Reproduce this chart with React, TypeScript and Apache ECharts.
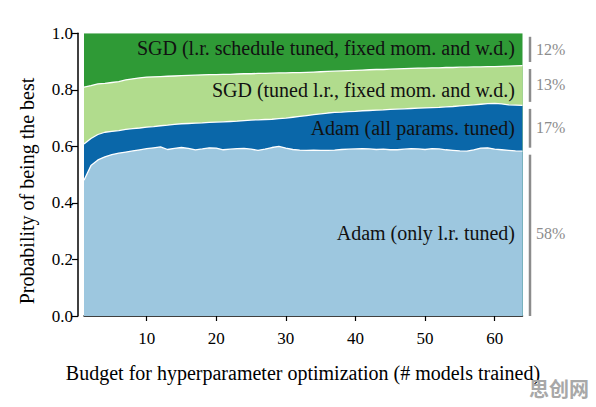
import React, { useEffect, useRef } from "react";
import * as echarts from "echarts";

const budgets = [
  1, 2, 3, 4, 5, 6, 7, 8, 9, 10, 11, 12, 13, 14, 15, 16, 17, 18, 19, 20, 21, 22,
  23, 24, 25, 26, 27, 28, 29, 30, 31, 32, 33, 34, 35, 36, 37, 38, 39, 40, 41, 42,
  43, 44, 45, 46, 47, 48, 49, 50, 51, 52, 53, 54, 55, 56, 57, 58, 59, 60, 61, 62,
  63, 64,
];

// cumulative upper boundary of each band (probability of being the best)
const adamLrTop = [
  0.48, 0.532, 0.552, 0.563, 0.571, 0.576, 0.58, 0.584, 0.588, 0.592, 0.595, 0.598,
  0.589, 0.593, 0.596, 0.593, 0.588, 0.591, 0.595, 0.594, 0.588, 0.59, 0.592, 0.593,
  0.59, 0.586, 0.59, 0.596, 0.6, 0.594, 0.589, 0.587, 0.586, 0.587, 0.586, 0.586,
  0.587, 0.589, 0.59, 0.591, 0.592, 0.591, 0.589, 0.59, 0.588, 0.588, 0.59, 0.592,
  0.591, 0.589, 0.592, 0.591, 0.588, 0.586, 0.584, 0.583, 0.588, 0.594, 0.595, 0.59,
  0.588, 0.586, 0.584, 0.583,
];
const adamAllTop = [
  0.608, 0.628, 0.642, 0.65, 0.653, 0.656, 0.66, 0.663, 0.665, 0.668, 0.67, 0.673,
  0.675, 0.678, 0.68, 0.681, 0.682, 0.683, 0.685, 0.686, 0.687, 0.688, 0.689, 0.691,
  0.693, 0.694, 0.695, 0.696, 0.698, 0.7, 0.703, 0.706, 0.709, 0.712, 0.715, 0.718,
  0.72, 0.721, 0.723, 0.724, 0.726, 0.727, 0.728, 0.729, 0.731, 0.732, 0.733, 0.734,
  0.735, 0.736, 0.737, 0.738, 0.74, 0.741, 0.743, 0.745, 0.747, 0.749, 0.751, 0.752,
  0.75, 0.747, 0.746, 0.745,
];
const sgdLrTop = [
  0.81, 0.815, 0.821, 0.823, 0.826, 0.829, 0.835, 0.839, 0.842, 0.845, 0.846, 0.847,
  0.848, 0.849, 0.85, 0.851, 0.852, 0.853, 0.854, 0.854, 0.855, 0.855, 0.856, 0.857,
  0.857, 0.858, 0.858, 0.859, 0.86, 0.86, 0.861, 0.861, 0.862, 0.863, 0.864, 0.865,
  0.866, 0.867, 0.868, 0.869, 0.87, 0.871, 0.872, 0.872, 0.873, 0.874, 0.875, 0.876,
  0.877, 0.877, 0.878, 0.878, 0.879, 0.879, 0.88, 0.88, 0.881, 0.881, 0.882, 0.882,
  0.883, 0.884, 0.885, 0.886,
];
const TOTAL = 1.0;

const bandNames = [
  "SGD (l.r. schedule tuned, fixed mom. and w.d.)",
  "SGD (tuned l.r., fixed mom. and w.d.)",
  "Adam (all params. tuned)",
  "Adam (only l.r. tuned)",
];
const shareLabels = ["12%", "13%", "17%", "58%"];
const bandColors = ["#2f9a36", "#b1dc8d", "#0a67a9", "#9dc7df"];
const xTicks = [10, 20, 30, 40, 50, 60];

const SERIF = '"Liberation Serif", "DejaVu Serif", serif';

export default function App() {
  const ref = useRef<HTMLDivElement>(null);

  useEffect(() => {
    document.body.style.margin = "0";
    const chart = echarts.init(ref.current!, null, { renderer: "svg" });

    const tops = [budgets.map(() => TOTAL), sgdLrTop, adamAllTop, adamLrTop];

    const series = tops.map((arr, k) => ({
      type: "line",
      name: bandNames[k],
      data: budgets.map((b, i) => [b, arr[i]]),
      showSymbol: false,
      symbol: "none",
      smooth: false,
      lineStyle: { color: "#ffffff", width: k === 0 ? 0 : 1.3 },
      areaStyle: { color: bandColors[k], opacity: 1, origin: "start" },
      z: 2,
      silent: true,
    }));

    chart.setOption({
      animation: false,
      grid: { left: 84, right: 73.5, top: 33.3, bottom: 91 },
      xAxis: {
        type: "value",
        min: 1,
        max: 64,
        offset: 7,
        splitLine: { show: false },
        axisLine: { show: true, lineStyle: { color: "#000", width: 1.5 } },
        axisTick: {
          show: true,
          length: 5,
          customValues: xTicks,
          lineStyle: { color: "#000", width: 1.2 },
        },
        axisLabel: {
          customValues: xTicks,
          color: "#000",
          fontSize: 17,
          fontFamily: SERIF,
          margin: 7,
        },
      },
      yAxis: {
        type: "value",
        min: 0,
        max: 1,
        interval: 0.2,
        offset: 6,
        splitLine: { show: false },
        axisLine: { show: true, lineStyle: { color: "#000", width: 1.5 } },
        axisTick: { show: true, length: 6, lineStyle: { color: "#000", width: 1.2 } },
        axisLabel: {
          color: "#000",
          fontSize: 17,
          fontFamily: SERIF,
          margin: 5,
          formatter: (v: number) => v.toFixed(1),
        },
      },
      series,
    });

    // annotation geometry from final boundaries
    const last = budgets.length - 1;
    const bounds = [TOTAL, sgdLrTop[last], adamAllTop[last], adamLrTop[last], 0];
    const py = bounds.map((v) => chart.convertToPixel({ yAxisIndex: 0 }, v) as number);
    const labelY = [48, 90, 128, 233];
    const pctY = [49, 84, 127, 233];
    const barX = 530;
    const gap = 3.5;

    const graphics: any[] = [];
    bandNames.forEach((name, k) => {
      graphics.push({
        type: "text",
        x: 515,
        y: labelY[k],
        z: 100,
        style: {
          text: name,
          fill: "#111",
          font: `20px ${SERIF}`,
          align: "right",
          verticalAlign: "middle",
        },
      });
      const y1 = py[k] + gap;
      const y2 = k === 3 ? py[k + 1] : py[k + 1] - gap;
      graphics.push({
        type: "line",
        z: 100,
        shape: { x1: barX, y1, x2: barX, y2 },
        style: { stroke: "#8c8c8c", lineWidth: 2.5 },
      });
      graphics.push({
        type: "text",
        x: 536,
        y: pctY[k],
        z: 100,
        style: {
          text: shareLabels[k],
          fill: "#8c8c8c",
          font: `16px ${SERIF}`,
          align: "left",
          verticalAlign: "middle",
        },
      });
    });
    graphics.push({
      type: "text",
      x: 303,
      y: 373,
      z: 100,
      style: {
        text: "Budget for hyperparameter optimization (# models trained)",
        fill: "#000",
        font: `20px ${SERIF}`,
        align: "center",
        verticalAlign: "middle",
      },
    });
    graphics.push({
      type: "text",
      x: 27,
      y: 191,
      z: 100,
      rotation: Math.PI / 2,
      style: {
        text: "Probability of being the best",
        fill: "#000",
        font: `20px ${SERIF}`,
        align: "center",
        verticalAlign: "middle",
      },
    });
    graphics.push({
      type: "text",
      x: 559,
      y: 388,
      z: 100,
      style: {
        text: "思创网",
        fill: "#a8a8a8",
        font: `bold 20px "Noto Sans CJK SC", sans-serif`,
        align: "center",
        verticalAlign: "middle",
      },
    });

    chart.setOption({ graphic: graphics });

    return () => chart.dispose();
  }, []);

  return <div ref={ref} style={{ width: 596, height: 407 }} />;
}
